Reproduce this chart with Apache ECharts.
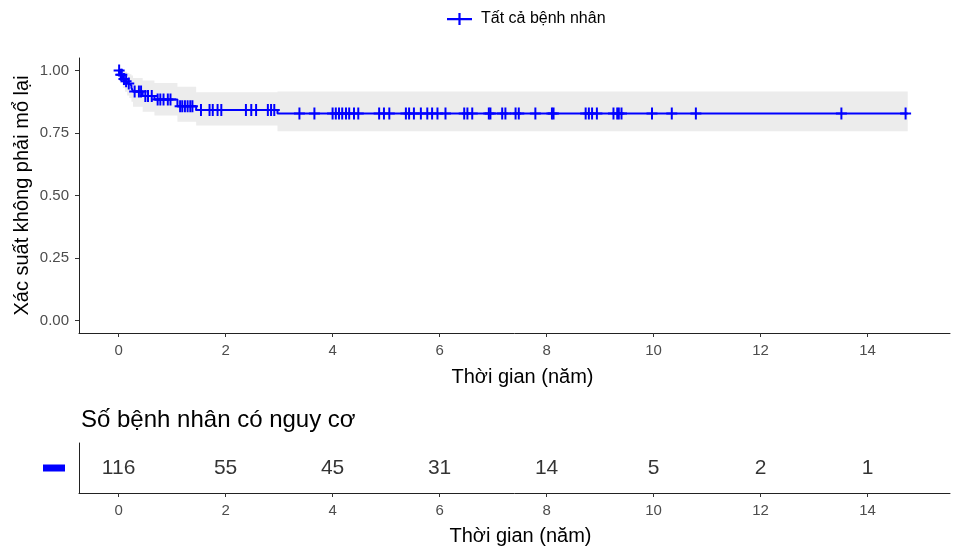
<!DOCTYPE html>
<html>
<head>
<meta charset="utf-8">
<script src="https://cdn.jsdelivr.net/npm/echarts@6/dist/echarts.min.js"></script>
<style>
  html, body { margin: 0; padding: 0; background: #fff; }
  #chart { width: 954px; height: 552px; }
</style>
</head>
<body>
<div id="chart"></div>
<script>
// Kaplan-Meier steps (time in years, survival probability)
var survTimes = [0, 0.03, 0.08, 0.12, 0.16, 0.2, 0.24, 0.27, 0.45, 0.67, 1.1, 1.45, 2.97, 14.75];
var survProb  = [1.0, 0.983, 0.966, 0.957, 0.948, 0.94, 0.931, 0.916, 0.898, 0.884, 0.857, 0.842, 0.828, 0.828];
var ciUpper   = [1.0, 1.0, 0.998, 0.995, 0.99, 0.985, 0.98, 0.97, 0.96, 0.95, 0.935, 0.913, 0.916, 0.916];
var ciLower   = [1.0, 0.95, 0.93, 0.915, 0.9, 0.89, 0.875, 0.855, 0.835, 0.82, 0.795, 0.78, 0.757, 0.757];

// censored observations
var censorTimes = [0.01, 0.04, 0.06, 0.1, 0.14, 0.19, 0.3, 0.38, 0.42, 0.5, 0.55, 0.62, 0.73, 0.78, 0.84, 0.92, 0.97,
  1.15, 1.19, 1.24, 1.29, 1.34, 1.38, 1.54, 1.70, 1.76, 1.85, 1.92, 2.38, 2.48, 2.57, 2.79, 2.85, 2.91,
  3.38, 3.66, 4.0, 4.06, 4.12, 4.18, 4.25, 4.31, 4.40, 4.48, 4.87, 4.96, 5.06, 5.37, 5.43, 5.52, 5.65,
  5.77, 5.86, 5.96, 6.11, 6.46, 6.52, 6.61, 6.92, 6.95, 7.17, 7.23, 7.42, 7.48, 7.79, 8.1, 8.13, 8.73,
  8.79, 8.85, 8.94, 9.25, 9.32, 9.35, 9.4, 9.97, 10.34, 10.79, 13.51, 14.71];

// risk table
var riskTimes  = [0, 2, 4, 6, 8, 10, 12, 14];
var riskCounts = [116, 55, 45, 31, 14, 5, 2, 1];

var xTicks = [0, 2, 4, 6, 8, 10, 12, 14];
var yTicks = [0, 0.25, 0.5, 0.75, 1];

var seriesName = 'Tất cả bệnh nhân';
var blue = '#0000ff';
var plusPath = 'path://M4.1,0h1.8v4.1h4.1v1.8h-4.1v4.1h-1.8v-4.1h-4.1v-1.8h4.1z';

function stepAt(t) {
  var v = survProb[0];
  for (var i = 0; i < survTimes.length; i++) {
    if (survTimes[i] <= t) v = survProb[i];
  }
  return v;
}

var curveData = survTimes.map(function(t, i) { return [t, survProb[i]]; });
var censorData = censorTimes.map(function(t) { return [t, stepAt(t)]; });
var riskData = riskTimes.map(function(t, i) { return { value: [t, 0], count: riskCounts[i] }; });

// step-shaped confidence band polygon
function renderBand(params, api) {
  var top = [], bottom = [];
  var n = survTimes.length;
  for (var i = 0; i < n; i++) {
    var t0 = survTimes[i];
    var t1 = i < n - 1 ? survTimes[i + 1] : survTimes[i];
    top.push(api.coord([t0, ciUpper[i]]), api.coord([t1, ciUpper[i]]));
    bottom.push(api.coord([t0, ciLower[i]]), api.coord([t1, ciLower[i]]));
  }
  var pts = top.concat(bottom.reverse());
  return {
    type: 'polygon',
    shape: { points: pts },
    style: { fill: '#ececec', stroke: null }
  };
}

var axisLineStyle = { color: '#222', width: 1 };
var tickStyle = { color: '#333', width: 1 };
var labelGray = '#4d4d4d';

var myChart = echarts.init(document.getElementById('chart'));
var option = {
  animation: false,
  textStyle: { fontFamily: 'Liberation Sans, Arial, sans-serif' },
  legend: {
    data: [seriesName],
    left: 442,
    top: 6,
    icon: 'path://M0,5h25v2.2h-25z M11.4,0h2.2v12h-2.2z',
    itemWidth: 25,
    itemHeight: 12,
    itemGap: 10,
    textStyle: { fontSize: 16, color: '#000', padding: [0, 0, 0, 4] }
  },
  title: {
    text: 'Số bệnh nhân có nguy cơ',
    left: 76,
    top: 403,
    textStyle: { fontSize: 24, fontWeight: 'normal', color: '#000' }
  },
  grid: [
    { left: 79, right: 4, top: 58, bottom: 219 },
    { left: 79, right: 4, top: 443, bottom: 59 }
  ],
  xAxis: [
    {
      gridIndex: 0, type: 'value', min: -0.74, max: 15.54,
      splitLine: { show: false },
      axisLine: { onZero: false, lineStyle: axisLineStyle },
      axisTick: { length: 4, lineStyle: tickStyle, customValues: xTicks },
      axisLabel: { customValues: xTicks, color: labelGray, fontSize: 15, margin: 10 },
      name: 'Thời gian (năm)', nameLocation: 'middle', nameGap: 34, nameMoveOverlap: false,
      nameTextStyle: { fontSize: 20, color: '#000', padding: [0, 0, 0, 16] }
    },
    {
      gridIndex: 1, type: 'value', min: -0.74, max: 15.54,
      splitLine: { show: false },
      axisLine: { onZero: false, lineStyle: axisLineStyle },
      axisTick: { length: 4, lineStyle: tickStyle, customValues: xTicks },
      axisLabel: { customValues: xTicks, color: labelGray, fontSize: 15, margin: 10 },
      name: 'Thời gian (năm)', nameLocation: 'middle', nameGap: 33, nameMoveOverlap: false,
      nameTextStyle: { fontSize: 20, color: '#000', padding: [0, 0, 0, 12] }
    }
  ],
  yAxis: [
    {
      gridIndex: 0, type: 'value', min: -0.05, max: 1.05,
      splitLine: { show: false },
      axisLine: { show: true, onZero: false, lineStyle: axisLineStyle },
      axisTick: { show: true, length: 4, lineStyle: tickStyle, customValues: yTicks },
      axisLabel: {
        customValues: yTicks, color: labelGray, fontSize: 15, margin: 10,
        formatter: function(v) { return v.toFixed(2); }
      },
      name: 'Xác suất không phải mổ lại', nameLocation: 'middle', nameGap: 47, nameMoveOverlap: false,
      nameTextStyle: { fontSize: 20, color: '#000' }
    },
    {
      gridIndex: 1, type: 'value', min: -1, max: 1,
      splitLine: { show: false },
      axisLine: { show: true, onZero: false, lineStyle: axisLineStyle },
      axisTick: { show: false },
      axisLabel: {
        margin: 14,
        customValues: [0],
        formatter: function() { return '{b| }'; },
        rich: { b: { width: 22, height: 7, lineHeight: 7, fontSize: 7, backgroundColor: blue } }
      }
    }
  ],
  series: [
    {
      name: 'ci', type: 'custom', xAxisIndex: 0, yAxisIndex: 0,
      data: [[0, 0]], renderItem: renderBand, silent: true, z: 1
    },
    {
      name: seriesName, type: 'line', xAxisIndex: 0, yAxisIndex: 0,
      data: curveData, step: 'end', showSymbol: false,
      itemStyle: { color: blue },
      lineStyle: { color: blue, width: 2 }, z: 3
    },
    {
      name: 'censor', type: 'scatter', xAxisIndex: 0, yAxisIndex: 0,
      data: censorData, symbol: plusPath, symbolSize: [11, 12],
      itemStyle: { color: blue, opacity: 1 }, z: 4
    },
    {
      name: 'risk', type: 'scatter', xAxisIndex: 1, yAxisIndex: 1,
      data: riskData, symbolSize: 0, itemStyle: { color: 'transparent' },
      label: {
        show: true, position: 'inside', fontSize: 21, color: '#000',
        formatter: function(p) { return String(p.data.count); }
      }
    }
  ]
};
myChart.setOption(option);
window.addEventListener('resize', function() {
  myChart.resize();
});
</script>
</body>
</html>
